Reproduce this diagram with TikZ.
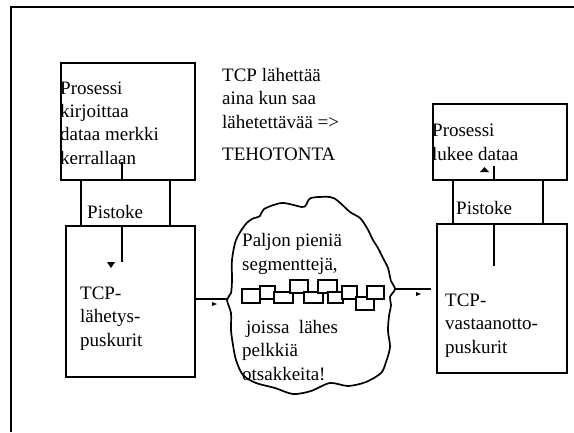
\documentclass[tikz,border=0pt]{standalone}
\usepackage{fontspec}
\setmainfont{Liberation Serif}
\begin{document}
\begin{tikzpicture}[x=1pt,y=-1pt,
  thick line/.style={line width=1.9pt},
  box/.style={draw, line width=1.9pt, anchor=north west, inner sep=0pt},
  txt/.style={anchor=base west, inner sep=0pt, align=left,
              font=\fontsize{19}{23.3}\selectfont},
  seg/.style={draw, fill=white, line width=1.5pt},
  tip/.style={fill=black}]
\useasboundingbox (0,0) rectangle (574,432);

% page frame (open to the right and bottom)
\coordinate (fl) at (11,432);
\coordinate (fc) at (11,7);
\coordinate (fr) at (574,7);
\draw[thick line] (fl) -- (fc) -- (fr);

% sending side
\node[box, minimum width=134pt, minimum height=117pt] (procA) at (60,62) {};
\node[box, minimum width=89pt,  minimum height=46pt]  (sockA) at (80,179) {};
\node[box, minimum width=129pt, minimum height=151pt] (sendbuf) at (65,225) {};

% receiving side
\node[box, minimum width=134pt, minimum height=76pt]  (procB) at (432,103) {};
\node[box, minimum width=90pt,  minimum height=44pt]  (sockB) at (452,179) {};
\node[box, minimum width=130pt, minimum height=149pt] (recvbuf) at (436,223) {};

% texts (base anchor sits on the last line of each block)
\node[txt] (tA) at (60,164) {Prosessi\\kirjoittaa\\dataa merkki\\kerrallaan};
\node[txt] (pA) at (87,218) {Pistoke};
\node[txt] (bA) at (80,346) {TCP-\\lähetys-\\puskurit};

\node[txt] (note) at (222,128) {TCP lähettää\\aina kun saa\\lähetettävää =>};
\node[txt] (verdict) at (222,160) {TEHOTONTA};

\node[txt] (tB) at (432,160) {Prosessi\\lukee dataa};
\node[txt] (pB) at (456,214) {Pistoke};
\node[txt] (bB) at (445,353) {TCP-\\vastaanotto-\\puskurit};

% network cloud
\draw[line width=1.7pt] plot[smooth cycle, tension=0.5] coordinates {
  (236,240) (245,225) (252,219) (260,216) (264,209) (282,203) (302,207)
  (306,205) (311,198) (330,197) (338,201) (350,212) (360,218) (367,228)
  (373,240) (378,248) (383,258) (388,268) (391,281) (395,289) (390,297)
  (391,305) (389,316) (388,331) (390,347) (386,362) (381,373) (366,382)
  (348,386) (330,383) (311,391) (293,394) (275,388) (256,383) (243,375)
  (236,360) (233,345) (231,330) (231,313) (227,300) (231,293) (232,280)
  (232,260)};
\coordinate (cloudL) at (228,299);
\coordinate (cloudR) at (394,289);

\node[txt] (cl1) at (242,270) {Paljon pieniä\\segmenttejä,};
\node[txt] (cl2) at (242,380) {\kern4pt joissa\ \ lähes\\pelkkiä\\otsakkeita!};

% chain of small segments
\draw[seg] (242,289) rectangle (260,303);
\draw[seg] (260,286) rectangle (275,299);
\draw[seg] (274,292) rectangle (293,303);
\draw[seg] (290,280) rectangle (308,293);
\draw[seg] (304,292) rectangle (323,303);
\draw[seg] (318,280) rectangle (337,293);
\draw[seg] (328,292) rectangle (343,303);
\draw[seg] (342,286) rectangle (357,299);
\draw[seg] (356,297) rectangle (374,310);
\draw[seg] (367,286) rectangle (384,299);

% data flow: process -> send buffer
\coordinate (wA) at (122,162);
\draw[thick line] (wA) -- (wA |- procA.south);
\draw[thick line] (wA |- sendbuf.north) -- ++(0,37);
\fill[tip] (107,262) -- (115,262) -- (111,268) -- cycle;

% data flow: receive buffer -> process
\coordinate (wB) at (494,166);
\draw[thick line] (wB) -- (wB |- procB.south);
\draw[thick line] (wB |- recvbuf.north) -- ++(0,43);
\fill[tip] (480,172) -- (489,172) -- (484.5,167) -- cycle;

% send buffer -> network -> receive buffer
\draw[thick line] (sendbuf.east |- cloudL) -- (cloudL);
\fill[tip] (212,302) -- (217,304) -- (212,306) -- cycle;
\draw[thick line] (cloudR) -- (431,289);
\fill[tip] (416,292) -- (421,294) -- (416,296) -- cycle;
\end{tikzpicture}
\end{document}
